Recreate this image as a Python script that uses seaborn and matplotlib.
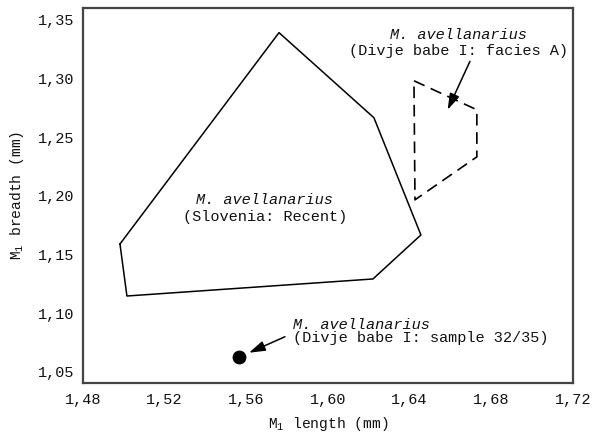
import matplotlib
matplotlib.use('Agg')
import matplotlib.pyplot as plt
import numpy as np
import pandas as pd
import seaborn as sns
from matplotlib.ticker import FuncFormatter, MultipleLocator

# Slovenia (Recent) convex hull
recent_len = [1.4981, 1.5015, 1.6220, 1.6455, 1.6225, 1.5760, 1.4981]
recent_br = [1.159, 1.1147, 1.1292, 1.1667, 1.2665, 1.339, 1.159]

# Divje babe I, facies A hull
faciesA_len = [1.6421, 1.6729, 1.6729, 1.6426, 1.6421]
faciesA_br = [1.298, 1.2733, 1.2332, 1.1966, 1.298]

# Divje babe I, sample 32/35
sample_len = [1.5565]
sample_br = [1.0625]

x_ticks = [1.48, 1.52, 1.56, 1.60, 1.64, 1.68, 1.72]
y_ticks = [1.05, 1.10, 1.15, 1.20, 1.25, 1.30, 1.35]

sns.set_style("white")
plt.rcParams['font.family'] = ['Liberation Mono', 'DejaVu Sans Mono']
plt.rcParams['mathtext.fontset'] = 'custom'
plt.rcParams['mathtext.rm'] = 'Liberation Mono'

df_recent = pd.DataFrame({'len': recent_len, 'br': recent_br})
df_facies = pd.DataFrame({'len': faciesA_len, 'br': faciesA_br})
df_sample = pd.DataFrame({'len': sample_len, 'br': sample_br})

fig, ax = plt.subplots(figsize=(5.99, 4.34), dpi=100)
fig.subplots_adjust(left=0.1386, right=0.9566, bottom=0.1175, top=0.9816)

sns.lineplot(data=df_recent, x='len', y='br', sort=False, estimator=None,
             color='black', linewidth=1.1, ax=ax)
sns.lineplot(data=df_facies, x='len', y='br', sort=False, estimator=None,
             color='black', linewidth=1.2, ax=ax)
ax.lines[-1].set_linestyle((0, (7, 4)))
sns.scatterplot(data=df_sample, x='len', y='br', color='black', s=85,
                edgecolor='black', ax=ax, zorder=5)

fs = 11
txt = '#111111'
ax.text(1.5691, 1.1965, 'M. avellanarius', style='italic', ha='center',
        va='center', fontsize=fs, color=txt)
ax.text(1.5691, 1.1820, '(Slovenia: Recent)', ha='center', va='center',
        fontsize=fs, color=txt)

ax.text(1.6639, 1.3372, 'M. avellanarius', style='italic', ha='center',
        va='center', fontsize=fs, color=txt)
ax.text(1.6639, 1.3230, '(Divje babe I: facies A)', ha='center',
        va='center', fontsize=fs, color=txt)

ax.text(1.5828, 1.0900, 'M. avellanarius', style='italic', ha='left',
        va='center', fontsize=fs, color=txt)
ax.text(1.5828, 1.0789, '(Divje babe I: sample 32/35)', ha='left',
        va='center', fontsize=fs, color=txt)

arrow = dict(arrowstyle='-|>,head_length=0.7,head_width=0.22',
             color='black', lw=1.1, mutation_scale=14, shrinkA=0, shrinkB=0)
ax.annotate('', xy=(1.6586, 1.2733), xytext=(1.6695, 1.3145),
            arrowprops=arrow)
ax.annotate('', xy=(1.5613, 1.0664), xytext=(1.5789, 1.0800),
            arrowprops=arrow)

ax.set_xlim(1.48, 1.72)
ax.set_ylim(1.0406, 1.360)
ax.set_xticks(x_ticks)
ax.set_yticks(y_ticks)
ax.xaxis.set_minor_locator(MultipleLocator(0.02))
comma = FuncFormatter(lambda v, p: f'{v:.2f}'.replace('.', ','))
ax.xaxis.set_major_formatter(comma)
ax.yaxis.set_major_formatter(comma)
ax.tick_params(axis='x', which='both', direction='in', length=4, width=0.8,
               color='#555555', labelsize=fs, pad=7, labelcolor=txt)
ax.tick_params(axis='y', which='both', length=0, labelsize=fs, pad=6,
               labelcolor=txt)

ax.set_xlabel(r'M$_1$ length (mm)', fontsize=fs - 0.5, labelpad=6,
              color=txt)
ax.set_ylabel(r'M$_1$ breadth (mm)', fontsize=fs - 0.5, labelpad=9,
              color=txt)

for s in ax.spines.values():
    s.set_color('#444444')
    s.set_linewidth(1.6)

plt.savefig('out.png', dpi=100)
